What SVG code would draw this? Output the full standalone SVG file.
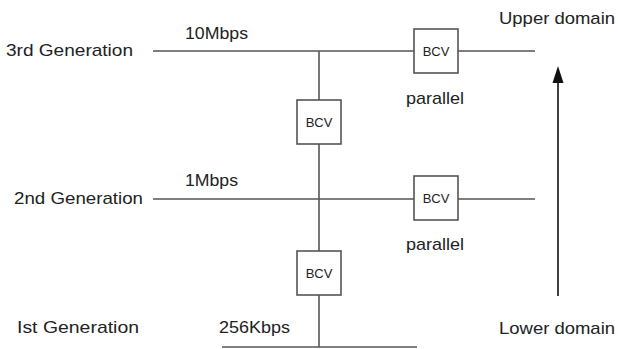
<svg xmlns="http://www.w3.org/2000/svg" width="618" height="349" viewBox="0 0 618 349">
<style>
.t{font-family:"Liberation Sans",Arial,sans-serif;font-size:17px;fill:#222}
.b{font-family:"Liberation Sans",Arial,sans-serif;font-size:13px;fill:#222;text-anchor:middle}
.ln{stroke:#555;stroke-width:1.6;fill:none}
.box{fill:#fff;stroke:#555;stroke-width:1.6}
</style>
<rect width="618" height="349" fill="#fff"/>
<g id="connectors">
<line class="ln" x1="153" y1="51" x2="535" y2="51"/>
<line class="ln" x1="153" y1="199" x2="535" y2="199"/>
<line class="ln" x1="222" y1="347" x2="417" y2="347"/>
<line class="ln" x1="319" y1="51" x2="319" y2="347"/>
<line x1="558" y1="296" x2="558" y2="80" stroke="#111" stroke-width="1.6"/>
<polygon points="558,66 552.5,83 563.5,83" fill="#111"/>
</g>
<g id="bcv-top-parallel"><rect class="box" x="414" y="29" width="44" height="44"/><text class="b" x="436" y="56">BCV</text></g>
<g id="bcv-mid"><rect class="box" x="297" y="100" width="44" height="44"/><text class="b" x="319" y="127">BCV</text></g>
<g id="bcv-2nd-parallel"><rect class="box" x="414" y="176" width="44" height="44"/><text class="b" x="436" y="203">BCV</text></g>
<g id="bcv-low"><rect class="box" x="297" y="251" width="44" height="44"/><text class="b" x="319" y="278">BCV</text></g>
<g id="labels">
<text class="t" x="6" y="56" textLength="127" lengthAdjust="spacingAndGlyphs">3rd Generation</text>
<text class="t" x="185" y="39" textLength="63" lengthAdjust="spacingAndGlyphs">10Mbps</text>
<text class="t" x="499" y="24" textLength="116" lengthAdjust="spacingAndGlyphs">Upper domain</text>
<text class="t" x="406" y="104" textLength="58" lengthAdjust="spacingAndGlyphs">parallel</text>
<text class="t" x="14" y="204" textLength="129" lengthAdjust="spacingAndGlyphs">2nd Generation</text>
<text class="t" x="185" y="186" textLength="53" lengthAdjust="spacingAndGlyphs">1Mbps</text>
<text class="t" x="406" y="250" textLength="58" lengthAdjust="spacingAndGlyphs">parallel</text>
<text class="t" x="17" y="333" textLength="122" lengthAdjust="spacingAndGlyphs">Ist Generation</text>
<text class="t" x="219" y="333" textLength="71" lengthAdjust="spacingAndGlyphs">256Kbps</text>
<text class="t" x="499" y="334" textLength="116" lengthAdjust="spacingAndGlyphs">Lower domain</text>
</g>
</svg>
